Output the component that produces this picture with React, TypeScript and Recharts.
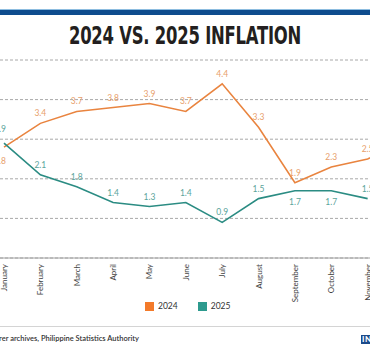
import { LineChart, Line, XAxis, YAxis, CartesianGrid, LabelList } from "recharts";

const MONTHS = [
  "January", "February", "March", "April", "May", "June",
  "July", "August", "September", "October", "November", "December",
];
const INFLATION_2024 = [2.8, 3.4, 3.7, 3.8, 3.9, 3.7, 4.4, 3.3, 1.9, 2.3, 2.5, 2.9];
const INFLATION_2025 = [2.9, 2.1, 1.8, 1.4, 1.3, 1.4, 0.9, 1.5, 1.7, 1.7, 1.5, null];
const Y_TICKS = [0, 1, 2, 3, 4, 5];

const ORANGE = "#e9843f";
const TEAL = "#2b8c83";

const data = MONTHS.map((m, i) => ({
  month: m,
  y2024: INFLATION_2024[i],
  y2025: INFLATION_2025[i],
}));

const FONT = "Lato, 'Open Sans', sans-serif";

function MonthTick(props: any) {
  const { x, y, payload } = props;
  const tx = x + 3;
  const ty = y + 6;
  return (
    <text
      x={tx}
      y={ty}
      transform={`rotate(-90 ${tx} ${ty})`}
      textAnchor="end"
      fontSize={8}
      fontFamily={FONT}
      fill="#444"
    >
      {payload.value}
    </text>
  );
}

// which labels sit under the line instead of above it
const BELOW_2024 = [0];
const BELOW_2025 = [8, 9];

function makeLabel(color: string, below: number[], firstGap: number) {
  return (props: any) => {
    const { x, y, value, index } = props;
    if (value == null) return null;
    const isBelow = below.includes(index);
    let dy = isBelow ? 14 : -7;
    if (index === 0) dy = isBelow ? 17 : -firstGap;
    return (
      <text
        x={index === 0 ? x - 4 : x}
        y={y + dy}
        textAnchor="middle"
        fontSize={8.5}
        fontFamily={FONT}
        fill={color}
      >
        {value.toFixed(1)}
      </text>
    );
  };
}

export default function App() {
  return (
    <div
      style={{
        position: "absolute",
        left: 0,
        top: 0,
        width: 370,
        height: 355,
        overflow: "hidden",
        background: "#fff",
      }}
    >
      <div style={{ position: "absolute", left: 0, top: 9, width: 370, height: 1, background: "#8dbde0" }} />
      <div style={{ position: "absolute", left: 0, top: 10, width: 370, height: 5, background: "#0e4c8e" }} />
      <div
        style={{
          position: "absolute",
          left: 0,
          top: 23,
          width: 370,
          textAlign: "center",
          fontFamily: "'DejaVu Sans Condensed', 'DejaVu Sans', sans-serif",
          fontWeight: 700,
          fontSize: 25,
          lineHeight: "25px",
          letterSpacing: -0.3,
          color: "#231f20",
          transform: "scaleX(0.73)",
          transformOrigin: "185px 0",
          whiteSpace: "nowrap",
        }}
      >
        2024 VS. 2025 INFLATION
      </div>

      <div style={{ position: "absolute", left: -40, top: 0 }}>
        <LineChart
          width={474}
          height={318}
          data={data}
          margin={{ top: 60, right: 0, bottom: 0, left: 0 }}
        >
          <CartesianGrid
            vertical={false}
            stroke="#a8a8a8"
            strokeDasharray="3 2"
          />
          <YAxis hide domain={[0, 5]} ticks={Y_TICKS} type="number" />
          <XAxis
            dataKey="month"
            padding={{ left: 44, right: 30 }}
            height={60}
            tickSize={0}
            tickMargin={0}
            tickLine={false}
            axisLine={{ stroke: "#a0a0a0" }}
            tick={<MonthTick />}
            interval={0}
          />
          <Line
            dataKey="y2024"
            stroke={ORANGE}
            strokeWidth={1.6}
            dot={false}
            isAnimationActive={false}
          >
            <LabelList dataKey="y2024" content={makeLabel("#e8a06c", BELOW_2024, 11)} />
          </Line>
          <Line
            dataKey="y2025"
            stroke={TEAL}
            strokeWidth={1.6}
            dot={false}
            isAnimationActive={false}
          >
            <LabelList dataKey="y2025" content={makeLabel("#5aa49b", BELOW_2025, 11)} />
          </Line>
        </LineChart>
      </div>

      <div
        style={{
          position: "absolute",
          top: 301,
          left: 145,
          display: "flex",
          alignItems: "center",
          fontFamily: FONT,
          fontSize: 8.5,
          color: "#333",
          lineHeight: "10px",
        }}
      >
        <span style={{ width: 9, height: 9, background: "#f37a2a", display: "inline-block" }} />
        <span style={{ marginLeft: 4 }}>2024</span>
        <span style={{ width: 9, height: 9, background: "#2d9a8e", display: "inline-block", marginLeft: 20 }} />
        <span style={{ marginLeft: 4 }}>2025</span>
      </div>

      <div style={{ position: "absolute", left: 0, top: 326, width: 370, height: 1, background: "#d4d4d4" }} />
      <div
        style={{
          position: "absolute",
          right: 231,
          top: 334,
          whiteSpace: "nowrap",
          fontFamily: FONT,
          fontWeight: 600,
          fontSize: 7.5,
          lineHeight: "10px",
          color: "#333",
        }}
      >
        Source: Inquirer archives, Philippine Statistics Authority
      </div>
      <div
        style={{
          position: "absolute",
          left: 361,
          top: 335,
          background: "#1b4a8a",
          color: "#fff",
          fontFamily: FONT,
          fontWeight: 900,
          fontSize: 8,
          lineHeight: "9px",
          padding: "0 1px",
          letterSpacing: 0.5,
        }}
      >
        INQUIRER
      </div>
    </div>
  );
}
